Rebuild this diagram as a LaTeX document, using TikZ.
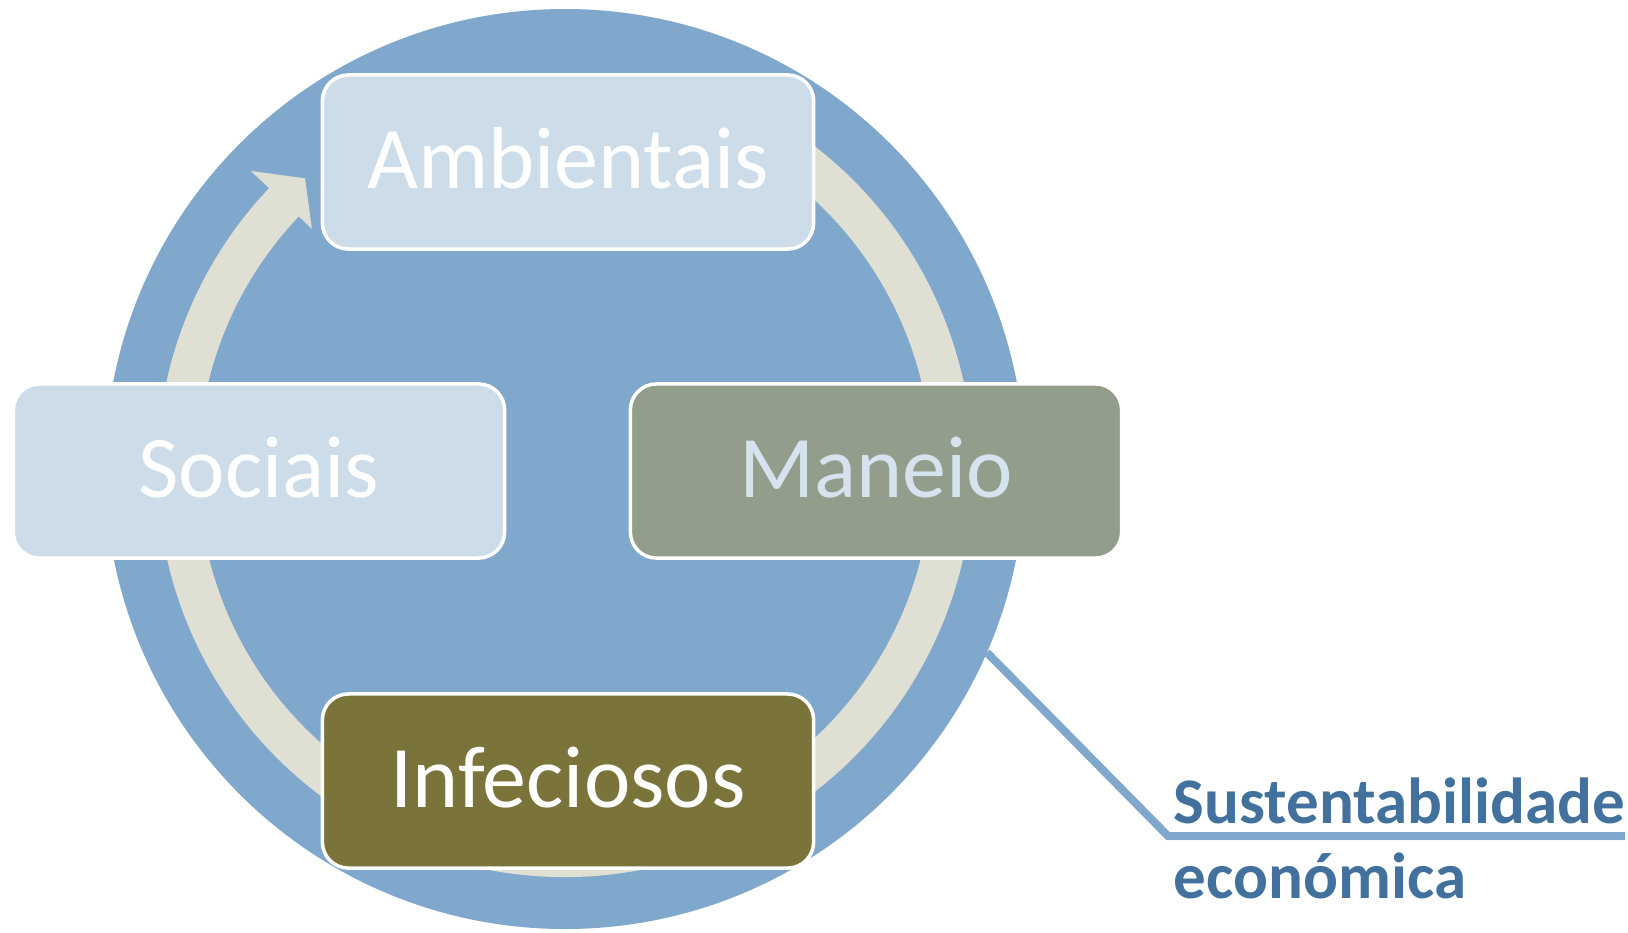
\documentclass[tikz,border=0pt]{standalone}
\usepackage{fontspec}
\setmainfont{Carlito}
\usetikzlibrary{arrows,shapes,positioning}
\definecolor{wheel}{HTML}{7FA8CC}
\definecolor{ringc}{HTML}{E0DFD3}
\definecolor{pale}{HTML}{CCDDE9}
\definecolor{sage}{HTML}{939D8B}
\definecolor{sagetext}{HTML}{D6E3EF}
\definecolor{olive}{HTML}{7A743B}
\definecolor{deep}{HTML}{41719C}

\begin{document}
\begin{tikzpicture}[x=0.01cm,y=0.01cm]
\tikzset{box/.style = {draw=white,line width=1pt,rounded corners=0.26cm,minimum width=4.91cm,minimum height=1.74cm,inner sep=0pt,text depth=0.08cm,font=\fontsize{25}{30}\selectfont}}
\useasboundingbox (-565,-463) rectangle (1063,469);
%big circle
\fill[wheel] (0,0) circle[radius=460];
%cycle arrow, runs clockwise behind the boxes
\fill[ringc] (65:408) arc[start angle=65,end angle=-223.5,radius=408] -- (136.5:433) -- (131.8:390) -- (136.5:349) -- (136.5:367) arc[start angle=-223.5,end angle=65,radius=367] -- cycle;
%the four boxes
\node[box,fill=pale,text=white] (amb) at (3,307) {Ambientais};
\node[box,fill=pale,text=white] (soc) at (-306,-2) {Sociais};
\node[box,fill=sage,text=sagetext] (man) at (311,-2) {Maneio};
\node[box,fill=olive,text=white] (inf) at (3,-312) {Infeciosos};
%callout
\coordinate (rim) at (-23.5:460);
\coordinate (knee) at (603,-367);
\coordinate (tail) at (1060,-367);
\draw[wheel,line width=0.08cm] (rim) -- (knee) -- (tail);
\node[anchor=base west,align=left,text=deep,inner sep=0pt,font=\bfseries\fontsize{18.5}{21.3}\selectfont] (sust) at (608,-429) {Sustentabilidade\\económica};
\end{tikzpicture}
\end{document}
